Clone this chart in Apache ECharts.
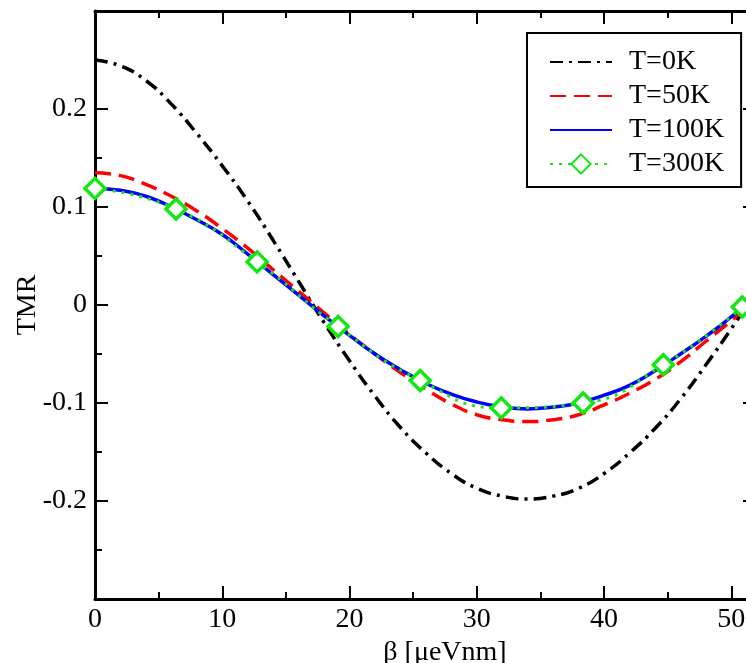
<!DOCTYPE html>
<html>
<head>
<meta charset="utf-8">
<script src="https://cdn.jsdelivr.net/npm/echarts@6/dist/echarts.min.js"></script>
<style>
  html, body { margin: 0; padding: 0; background: #fff; }
  #chart { width: 746px; height: 663px; }
</style>
</head>
<body>
<div id="chart"></div>
<script>
// beta [ueVnm] sample points for the continuous curves
const betaGrid = [0, 2, 4, 6, 8, 10, 12, 14, 16, 18, 20, 22, 24, 26, 28, 30, 32, 34, 36, 38, 40, 42, 44, 46, 48, 50, 52];
const tmr0K = [0.250, 0.244, 0.229, 0.205, 0.175, 0.142, 0.106, 0.066, 0.024, -0.018, -0.057, -0.093, -0.125, -0.151, -0.172, -0.187, -0.195, -0.198, -0.195, -0.187, -0.172, -0.151, -0.126, -0.096, -0.061, -0.024, 0.015];
const tmr50K = [0.135, 0.132, 0.123, 0.111, 0.096, 0.078, 0.058, 0.036, 0.014, -0.008, -0.030, -0.050, -0.069, -0.086, -0.101, -0.112, -0.117, -0.119, -0.117, -0.112, -0.102, -0.090, -0.076, -0.058, -0.037, -0.016, 0.006];
const tmr100K = [0.119, 0.117, 0.111, 0.100, 0.087, 0.072, 0.052, 0.031, 0.010, -0.011, -0.031, -0.050, -0.066, -0.080, -0.091, -0.099, -0.104, -0.106, -0.104, -0.100, -0.092, -0.082, -0.067, -0.050, -0.032, -0.012, 0.011];
// T=300K is only sampled at the diamond markers
const markerBeta = [0, 6.37, 12.74, 19.10, 25.55, 31.92, 38.36, 44.65, 50.86];
const tmr300K = [0.119, 0.098, 0.044, -0.022, -0.077, -0.105, -0.100, -0.061, -0.002];

const seriesNames = ['T=0K', 'T=50K', 'T=100K', 'T=300K'];
const xTitle = 'β [μeVnm]';
const yTitle = 'TMR';

const pairs = (xs, ys) => xs.map((x, i) => [x, ys[i]]);

const FONT = '"Liberation Serif", "DejaVu Serif", serif';
const GREEN = '#14e614';
const LW = 3.5;

var myChart = echarts.init(document.getElementById('chart'), null, { renderer: 'canvas' });

const tickStyle = { color: '#000', width: 2 };
const xBase = {
  type: 'value', min: 0, max: 55, interval: 10,
  axisLine: { onZero: false, lineStyle: { color: '#000', width: 3 } },
  axisTick: { inside: true, length: 13, lineStyle: tickStyle },
  minorTick: { show: true, splitNumber: 2, length: 7, lineStyle: tickStyle },
  splitLine: { show: false }
};
const yBase = {
  type: 'value', min: -0.3, max: 0.3, interval: 0.1,
  axisLine: { onZero: false, lineStyle: { color: '#000', width: 3 } },
  axisTick: { inside: true, length: 13, lineStyle: tickStyle },
  minorTick: { show: true, splitNumber: 2, length: 7, lineStyle: tickStyle },
  splitLine: { show: false }
};

var option = {
  animation: false,
  backgroundColor: '#fff',
  grid: { left: 95, top: 11, bottom: 64, right: -49, outerBoundsMode: 'none' },
  legend: {
    orient: 'vertical',
    left: 527, top: 33,
    padding: [15, 17, 9, 22],
    itemWidth: 62, itemHeight: 24, itemGap: 6,
    backgroundColor: '#fff',
    borderColor: '#000', borderWidth: 2, borderRadius: 0,
    selectedMode: false,
    textStyle: { fontFamily: FONT, fontSize: 28, color: '#000', padding: [0, 0, 0, 12] },
    data: [
      { name: seriesNames[0], itemStyle: { opacity: 0 } },
      { name: seriesNames[1], itemStyle: { opacity: 0 } },
      { name: seriesNames[2], itemStyle: { opacity: 0 } },
      { name: seriesNames[3] }
    ]
  },
  xAxis: [
    Object.assign({}, xBase, {
      position: 'bottom',
      name: xTitle, nameLocation: 'middle', nameGap: 33,
      nameTextStyle: { fontFamily: FONT, fontSize: 28, color: '#000' },
      axisLabel: { fontFamily: FONT, fontSize: 28, color: '#000', margin: 7, showMaxLabel: false }
    }),
    Object.assign({}, xBase, { position: 'top', axisLabel: { show: false } })
  ],
  yAxis: [
    Object.assign({}, yBase, {
      position: 'left',
      name: yTitle, nameLocation: 'middle', nameGap: 53, nameMoveOverlap: false,
      nameTextStyle: { fontFamily: FONT, fontSize: 28, color: '#000' },
      axisLabel: {
        fontFamily: FONT, fontSize: 28, color: '#000', margin: 8,
        showMinLabel: false, showMaxLabel: false,
        formatter: (v) => (Math.abs(v) < 1e-9 ? '0' : String(Math.round(v * 10) / 10))
      }
    }),
    Object.assign({}, yBase, { position: 'right', offset: -39, axisLabel: { show: false } })
  ],
  series: [
    {
      name: seriesNames[0], type: 'line', smooth: true, symbol: 'none',
      data: pairs(betaGrid, tmr0K),
      itemStyle: { color: '#000' },
      lineStyle: { color: '#000', width: LW, type: [13, 6, 3, 6] }
    },
    {
      name: seriesNames[1], type: 'line', smooth: true, symbol: 'none',
      data: pairs(betaGrid, tmr50K),
      itemStyle: { color: '#ff0000' },
      lineStyle: { color: '#ff0000', width: LW, type: [16, 8] }
    },
    {
      name: seriesNames[2], type: 'line', smooth: true, symbol: 'none',
      data: pairs(betaGrid, tmr100K),
      itemStyle: { color: '#0000ff' },
      lineStyle: { color: '#0000ff', width: LW, type: 'solid' }
    },
    {
      name: seriesNames[3], type: 'line', smooth: true,
      symbol: 'diamond', symbolSize: 20, showAllSymbol: true,
      data: pairs(markerBeta, tmr300K),
      itemStyle: { color: '#fff', borderColor: GREEN, borderWidth: 3.5 },
      lineStyle: { color: GREEN, width: 3, type: [3, 6] },
      z: 5
    }
  ]
};

myChart.setOption(option);
</script>
</body>
</html>
